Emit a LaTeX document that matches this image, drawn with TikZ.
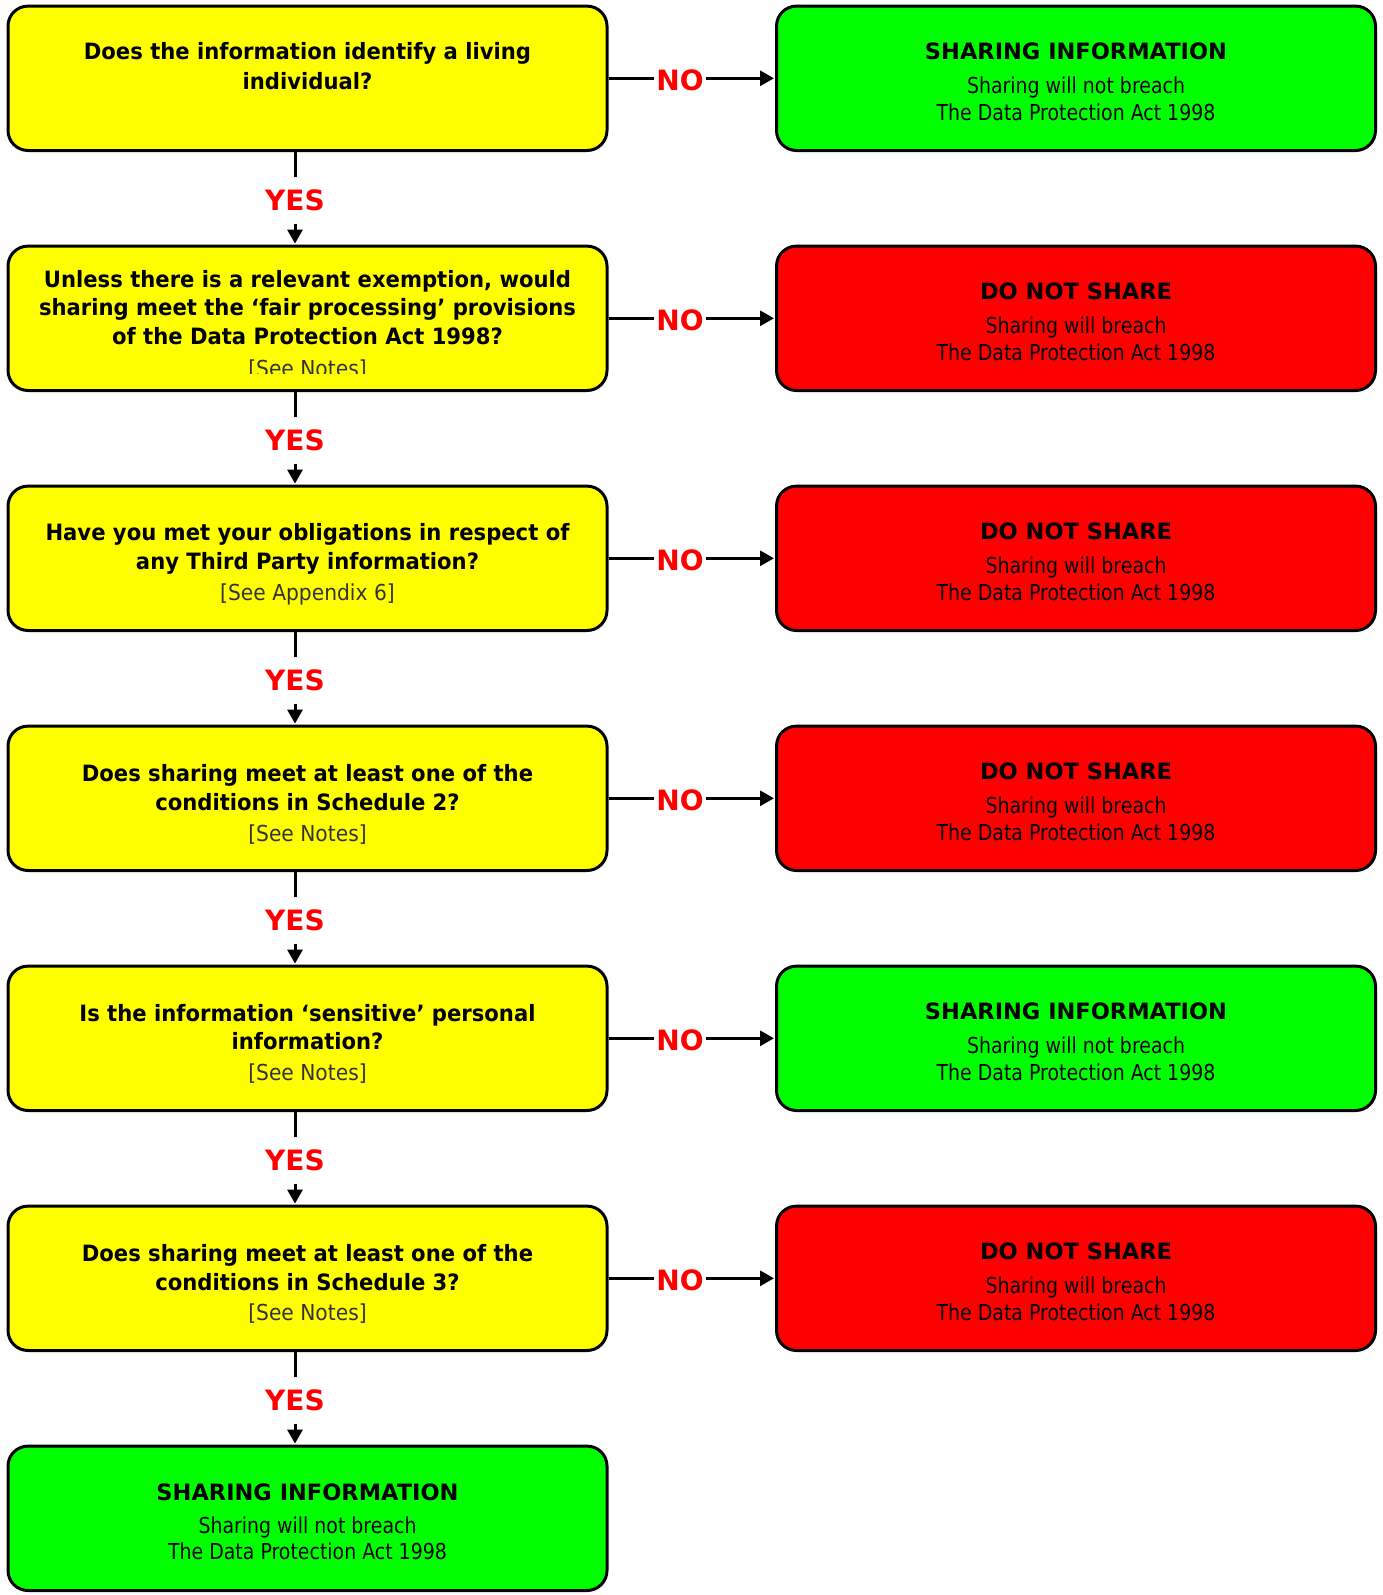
\documentclass[tikz,border=0pt]{standalone}
\usepackage{fontspec}
\setmainfont{DejaVu Sans}[FakeStretch=0.86]
\newfontfamily\qfont{DejaVu Sans}[FakeStretch=0.94]
\newfontfamily\tfont{DejaVu Sans}[FakeStretch=1.0]
\newfontfamily\nfont{DejaVu Sans}[FakeStretch=0.92]
\usetikzlibrary{arrows.meta}
\definecolor{qyellow}{RGB}{255,255,0}
\definecolor{okgreen}{RGB}{0,255,0}
\definecolor{nored}{RGB}{255,0,0}
\definecolor{lblred}{RGB}{255,0,0}
\definecolor{notegrey}{RGB}{51,51,51}
\tikzset{
  box/.style={draw=black, line width=3pt, rounded corners=20pt, minimum width=599pt, minimum height=144.4pt, inner sep=0pt},
  qbox/.style={box, fill=qyellow},
  gbox/.style={box, fill=okgreen},
  rbox/.style={box, fill=nored},
  qtext/.style={anchor=base, inner sep=0pt, font=\qfont\fontsize{22.5}{27}\selectfont\bfseries},
  ttext/.style={anchor=base, inner sep=0pt, font=\tfont\fontsize{22.5}{27}\selectfont\bfseries},
  stext/.style={anchor=base, inner sep=0pt, font=\fontsize{22}{26}\selectfont},
  note/.style={anchor=base, inner sep=0pt, text=notegrey, font=\nfont\fontsize{22}{26}\selectfont},
  conn/.style={line width=3pt, -{Triangle[length=14pt,width=15pt]}, shorten >=1pt},
  lbl/.style={fill=white, text=lblred, inner xsep=2pt, inner ysep=13pt, font=\tfont\fontsize{28}{30}\selectfont\bfseries},
}
\begin{document}
\begin{tikzpicture}[x=1pt,y=-1pt]
\useasboundingbox (0,0) rectangle (1383,1595);
% left column
\node[qbox] (Q1) at (307.5,78.3) {};
\node[qbox] (Q2) at (307.5,318.3) {};
\node[qbox] (Q3) at (307.5,558.3) {};
\node[qbox] (Q4) at (307.5,798.3) {};
\node[qbox] (Q5) at (307.5,1038.3) {};
\node[qbox] (Q6) at (307.5,1278.3) {};
\node[gbox] (Q7) at (307.5,1518.3) {};
% right column
\node[gbox] (R1) at (1076,78.3) {};
\node[rbox] (R2) at (1076,318.3) {};
\node[rbox] (R3) at (1076,558.3) {};
\node[rbox] (R4) at (1076,798.3) {};
\node[gbox] (R5) at (1076,1038.3) {};
\node[rbox] (R6) at (1076,1278.3) {};
% question texts
\node[qtext] (q1a) at (307.5,59.5) {Does the information identify a living};
\node[qtext] (q1b) at (307.5,89) {individual?};
\node[qtext] (q2a) at (307.5,287) {Unless there is a relevant exemption, would};
\node[qtext] (q2b) at (307.5,315.5) {sharing meet the ‘fair processing’ provisions};
\node[qtext] (q2c) at (307.5,344) {of the Data Protection Act 1998?};
\begin{scope}
\clip (8,240) rectangle (607,373);
\node[note] (q2n) at (307.5,376.5) {[See Notes]};
\end{scope}
\node[qtext] (q3a) at (307.5,540.5) {Have you met your obligations in respect of};
\node[qtext] (q3b) at (307.5,569) {any Third Party information?};
\node[note] (q3n) at (307.5,600.5) {[See Appendix 6]};
\node[qtext] (q4a) at (307.5,781.5) {Does sharing meet at least one of the};
\node[qtext] (q4b) at (307.5,810) {conditions in Schedule 2?};
\node[note] (q4n) at (307.5,841.5) {[See Notes]};
\node[qtext] (q5a) at (307.5,1021.5) {Is the information ‘sensitive’ personal};
\node[qtext] (q5b) at (307.5,1049) {information?};
\node[note] (q5n) at (307.5,1080.5) {[See Notes]};
\node[qtext] (q6a) at (307.5,1261.5) {Does sharing meet at least one of the};
\node[qtext] (q6b) at (307.5,1290) {conditions in Schedule 3?};
\node[note] (q6n) at (307.5,1320.5) {[See Notes]};
\node[ttext] (q7a) at (307.5,1500.5) {SHARING INFORMATION};
\node[stext] (q7b) at (307.5,1533.5) {Sharing will not breach};
\node[stext] (q7c) at (307.5,1559) {The Data Protection Act 1998};
% result texts
\node[ttext] (r1a) at (1076,59.8) {SHARING INFORMATION};
\node[stext] (r1b) at (1076,93.9) {Sharing will not breach};
\node[stext] (r1c) at (1076,120.4) {The Data Protection Act 1998};
\node[ttext] (r2a) at (1076,299.8) {DO NOT SHARE};
\node[stext] (r2b) at (1076,333.9) {Sharing will breach};
\node[stext] (r2c) at (1076,360.4) {The Data Protection Act 1998};
\node[ttext] (r3a) at (1076,539.8) {DO NOT SHARE};
\node[stext] (r3b) at (1076,573.9) {Sharing will breach};
\node[stext] (r3c) at (1076,600.4) {The Data Protection Act 1998};
\node[ttext] (r4a) at (1076,779.8) {DO NOT SHARE};
\node[stext] (r4b) at (1076,813.9) {Sharing will breach};
\node[stext] (r4c) at (1076,840.4) {The Data Protection Act 1998};
\node[ttext] (r5a) at (1076,1019.8) {SHARING INFORMATION};
\node[stext] (r5b) at (1076,1053.9) {Sharing will not breach};
\node[stext] (r5c) at (1076,1080.4) {The Data Protection Act 1998};
\node[ttext] (r6a) at (1076,1259.8) {DO NOT SHARE};
\node[stext] (r6b) at (1076,1293.9) {Sharing will breach};
\node[stext] (r6c) at (1076,1320.4) {The Data Protection Act 1998};
% NO connectors
\foreach \i in {1,...,6}{
  \draw[conn] (Q\i.east) -- node[lbl, pos=0.43, yshift=-2pt] (no\i) {NO} (R\i.west);
}
% YES connectors
\foreach \i/\j in {1/2,2/3,3/4,4/5,5/6,6/7}{
  \draw[conn] ([xshift=-12.5pt]Q\i.south) -- node[lbl, yshift=-2pt] (yes\i) {YES} ([xshift=-12.5pt]Q\j.north);
}
\end{tikzpicture}
\end{document}
